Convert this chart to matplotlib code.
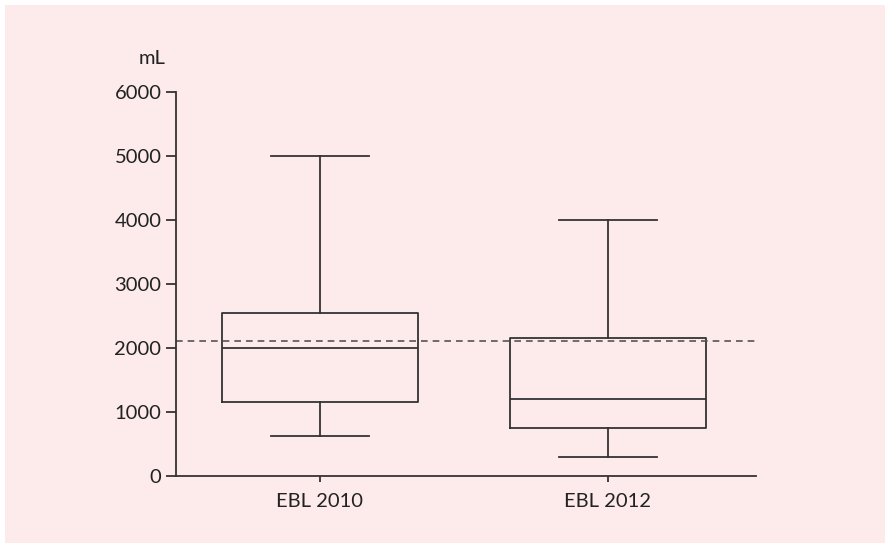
import matplotlib
matplotlib.use("Agg")
import matplotlib.pyplot as plt
from matplotlib.patches import Rectangle

plt.rcParams['font.family'] = ['Lato', 'DejaVu Sans']

categories = ["EBL 2010", "EBL 2012"]
whisker_low = [625, 300]
q1 = [1150, 750]
median = [2000, 1200]
q3 = [2550, 2150]
whisker_high = [5000, 4000]
reference_line = 2100
y_ticks = [0, 1000, 2000, 3000, 4000, 5000, 6000]

W, H = 885, 543
fig = plt.figure(figsize=(W / 100, H / 100), dpi=100)
fig.patch.set_facecolor('white')
bg = Rectangle((5 / W, 0), 1 - 5 / W, 1 - 5 / H, transform=fig.transFigure,
               facecolor='#fdeaea', edgecolor='none', zorder=-10)
fig.patches.append(bg)

ax = fig.add_axes([176 / W, 67.3 / H, (756 - 176) / W, (475.7 - 91.7) / H])
ax.set_facecolor('none')
ax.set_zorder(5)

stats = []
for i, c in enumerate(categories):
    stats.append(dict(label=c, whislo=whisker_low[i], q1=q1[i], med=median[i],
                      q3=q3[i], whishi=whisker_high[i], fliers=[]))

lc = '#333333'
ax.bxp(stats, positions=[1, 2], widths=0.68, showfliers=False,
       boxprops=dict(color=lc, linewidth=1.3),
       medianprops=dict(color=lc, linewidth=1.3),
       whiskerprops=dict(color=lc, linewidth=1.3),
       capprops=dict(color=lc, linewidth=1.3),
       capwidths=0.34)

ax.axhline(reference_line, color='#555555', linewidth=1.2, linestyle=(0, (4, 3)))

ax.set_xlim(0.5, 2.515)
ax.set_ylim(0, 6000)
ax.set_yticks(y_ticks)
ax.set_yticklabels([str(v) for v in y_ticks])
ax.set_xticks([1, 2])
ax.set_xticklabels(categories)

for s in ['top', 'right']:
    ax.spines[s].set_visible(False)
for s in ['left', 'bottom']:
    ax.spines[s].set_color(lc)
    ax.spines[s].set_linewidth(1.3)

ax.tick_params(axis='y', length=7.5, width=1.3, color=lc, labelsize=14.5, pad=3, labelcolor='#222222')
ax.tick_params(axis='x', length=4.5, width=1.3, color=lc, labelsize=14.5, pad=8, labelcolor='#222222')

fig.text(152 / W, 1 - 58 / H, "mL", fontsize=14.5, color='#222222', ha='center', va='center', zorder=6)

fig.savefig("out.png", dpi=100, facecolor=fig.get_facecolor())
